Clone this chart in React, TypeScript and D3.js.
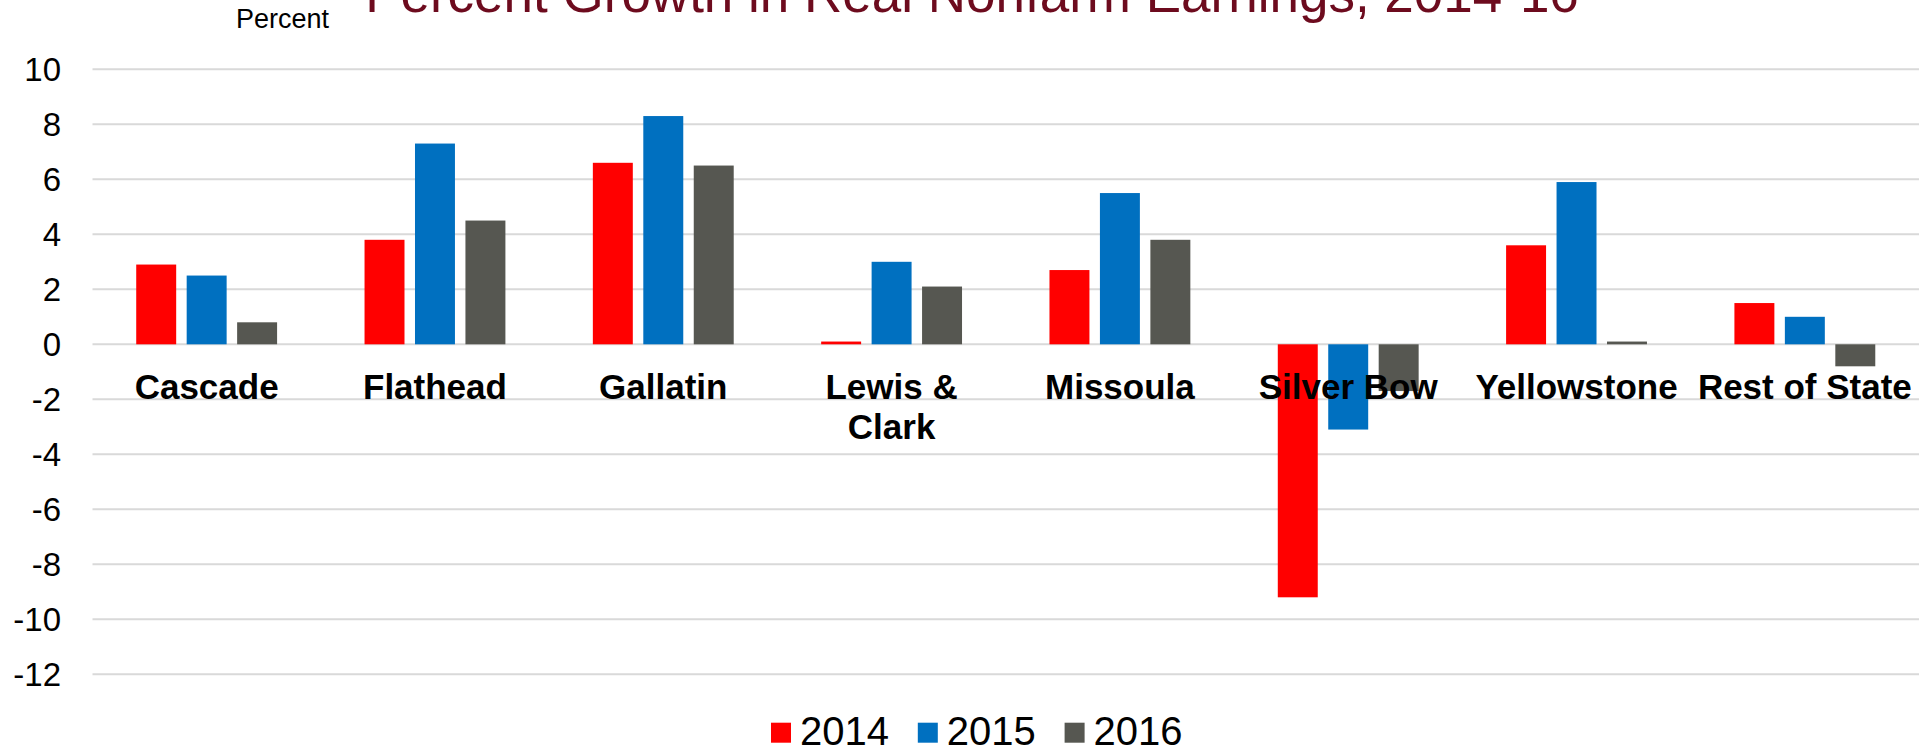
import React, { useEffect, useRef } from 'react';
import * as d3 from 'd3';

const categories = ['Cascade', 'Flathead', 'Gallatin', 'Lewis & Clark', 'Missoula', 'Silver Bow', 'Yellowstone', 'Rest of State'];
const seriesNames = ['2014', '2015', '2016'];
const values2014 = [2.9, 3.8, 6.6, 0.1, 2.7, -9.2, 3.6, 1.5];
const values2015 = [2.5, 7.3, 8.3, 3.0, 5.5, -3.1, 5.9, 1.0];
const values2016 = [0.8, 4.5, 6.5, 2.1, 3.8, -1.7, 0.1, -0.8];
const yTicks = [10, 8, 6, 4, 2, 0, -2, -4, -6, -8, -10, -12];
const colors = ['#ff0000', '#0070c0', '#565751'];

const App = () => {
  const ref = useRef<SVGSVGElement | null>(null);

  useEffect(() => {
    const width = 1932;
    const height = 749;
    const font = 'Arial, "Liberation Sans", sans-serif';

    const svg = d3.select(ref.current);
    svg.selectAll('*').remove();

    const series = [values2014, values2015, values2016];

    const x0 = d3.scaleBand<string>()
      .domain(categories)
      .range([92.5, 1919])
      .paddingInner(0.383)
      .paddingOuter(0.1915);

    const x1 = d3.scaleBand<string>()
      .domain(seriesNames)
      .range([0, x0.bandwidth()])
      .paddingInner(0.208);

    const y = d3.scaleLinear().domain([-12, 10]).range([674.3, 69.3]);

    // rejilla horizontal
    svg.append('g')
      .selectAll('line')
      .data(yTicks)
      .join('line')
      .attr('x1', 92.5)
      .attr('x2', 1919)
      .attr('y1', (d) => y(d))
      .attr('y2', (d) => y(d))
      .attr('stroke', '#d9d9d9')
      .attr('stroke-width', 2);

    // etiquetas del eje y
    svg.append('g')
      .selectAll('text')
      .data(yTicks)
      .join('text')
      .attr('x', 61)
      .attr('y', (d) => y(d) + 12)
      .attr('text-anchor', 'end')
      .style('font-family', font)
      .style('font-size', '33px')
      .style('fill', '#000')
      .text((d) => d);

    // barras
    const groups = svg.append('g')
      .selectAll('g')
      .data(categories)
      .join('g')
      .attr('transform', (d) => `translate(${x0(d)},0)`);

    groups.selectAll('rect')
      .data((d, i) => seriesNames.map((s, j) => ({ s, v: series[j][i], j })))
      .join('rect')
      .attr('x', (d) => x1(d.s) as number)
      .attr('width', x1.bandwidth())
      .attr('y', (d) => y(Math.max(0, d.v)))
      .attr('height', (d) => Math.abs(y(d.v) - y(0)))
      .attr('fill', (d) => colors[d.j]);

    // etiquetas de categorias (encima de las barras)
    const labels = svg.append('g')
      .selectAll('text')
      .data(categories)
      .join('text')
      .attr('x', (d) => (x0(d) as number) + x0.bandwidth() / 2)
      .attr('y', 399)
      .attr('text-anchor', 'middle')
      .style('font-family', font)
      .style('font-size', '35px')
      .style('font-weight', 'bold')
      .style('fill', '#000');

    labels.each(function (d) {
      const t = d3.select(this);
      const parts = d === 'Lewis & Clark' ? ['Lewis &', 'Clark'] : [d];
      parts.forEach((p, k) => {
        t.append('tspan')
          .attr('x', (x0(d) as number) + x0.bandwidth() / 2)
          .attr('dy', k === 0 ? 0 : 40)
          .text(p);
      });
    });

    // titulo (cortado arriba)
    svg.append('text')
      .attr('x', 972)
      .attr('y', 12)
      .attr('text-anchor', 'middle')
      .style('font-family', font)
      .style('font-size', '53px')
      .style('fill', '#6d0b1e')
      .text('Percent Growth in Real Nonfarm Earnings, 2014-16');

    svg.append('text')
      .attr('x', 236)
      .attr('y', 28)
      .style('font-family', font)
      .style('font-size', '27px')
      .style('fill', '#000')
      .text('Percent');

    // leyenda
    const legend = svg.append('g')
      .selectAll('g')
      .data(seriesNames)
      .join('g')
      .attr('transform', (d, i) => `translate(${771 + i * 146.8},0)`);

    legend.append('rect')
      .attr('x', 0)
      .attr('y', 722.7)
      .attr('width', 20)
      .attr('height', 20)
      .attr('fill', (d, i) => colors[i]);

    legend.append('text')
      .attr('x', 29)
      .attr('y', 745)
      .style('font-family', font)
      .style('font-size', '40px')
      .style('fill', '#000')
      .text((d) => d);

    svg.attr('width', width).attr('height', height);
  }, []);

  return (
    <div>
      <svg ref={ref} style={{ position: 'absolute', left: 0, top: 0, background: '#fff' }} />
    </div>
  );
};

export default App;
